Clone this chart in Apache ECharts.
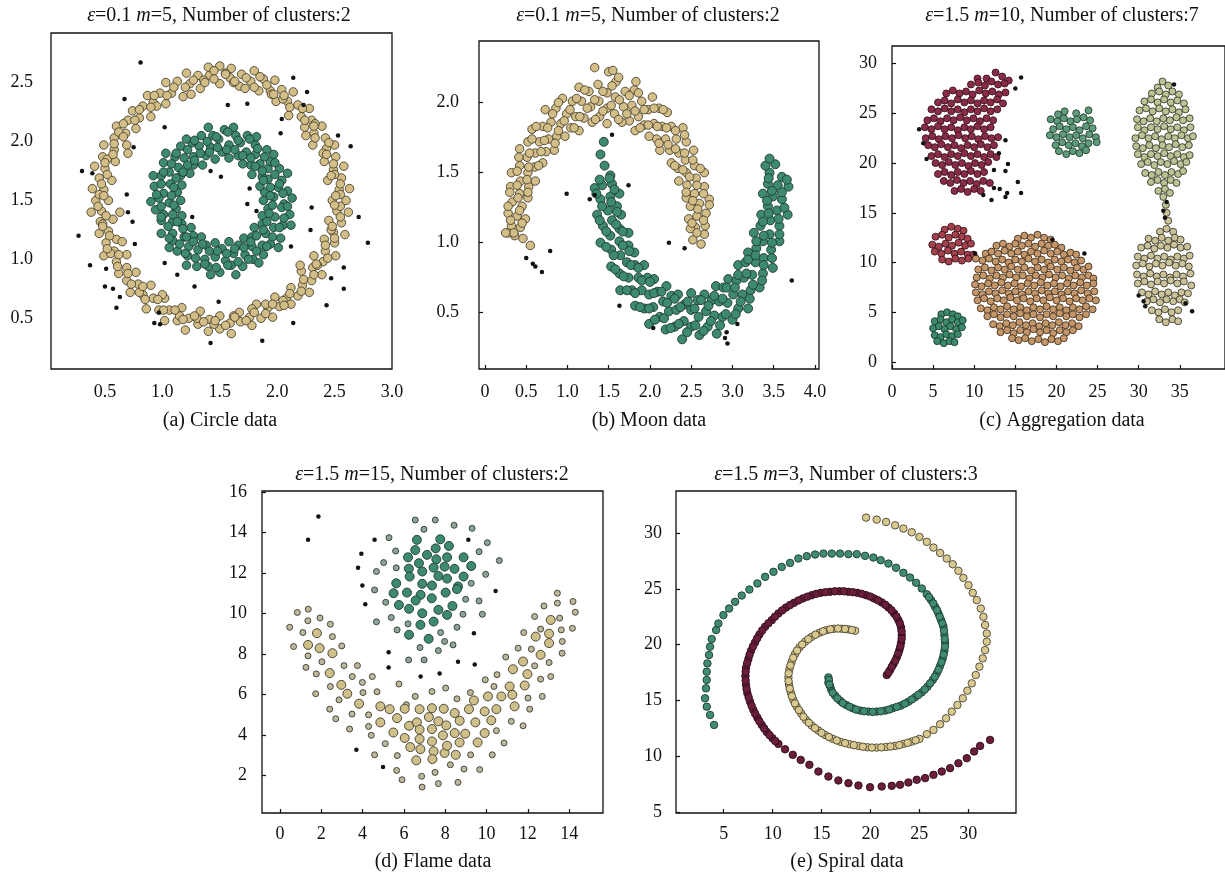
<!DOCTYPE html>
<html><head><meta charset="utf-8">
<script src="https://cdn.jsdelivr.net/npm/echarts@6/dist/echarts.min.js"></script>
<style>html,body{margin:0;padding:0;background:#fff}#c{width:1225px;height:880px}</style>
</head><body><div id="c"></div><script>
// ---------- tick labels ----------
const circleXTicks=[0.5,1,1.5,2,2.5,3];
const circleYTicks=[0.5,1,1.5,2,2.5];
const moonXTicks=[0,0.5,1,1.5,2,2.5,3,3.5,4];
const moonYTicks=[0.5,1,1.5,2];
const aggXTicks=[0,5,10,15,20,25,30,35];
const aggYTicks=[0,5,10,15,20,25,30];
const flameXTicks=[0,2,4,6,8,10,12,14];
const flameYTicks=[2,4,6,8,10,12,14,16];
const spiralXTicks=[5,10,15,20,25,30];
const spiralYTicks=[5,10,15,20,25,30];

// ---------- (a) circle data ----------
const circleInner=[[1.88,1.50],[1.97,1.53],[2.06,1.47],[2.13,1.52],[1.89,1.57],[2.01,1.61],[2.09,1.58],[1.85,1.62],[1.92,1.68],[2.04,1.67],[2.09,1.73],[1.87,1.70],[1.92,1.77],[2.02,1.77],[1.78,1.72],[1.85,1.81],[1.94,1.83],[1.97,1.89],[1.77,1.80],[1.81,1.89],[1.91,1.93],[1.70,1.81],[1.73,1.91],[1.81,1.97],[1.82,2.04],[1.66,1.88],[1.68,1.99],[1.74,2.05],[1.58,1.86],[1.58,1.97],[1.64,2.05],[1.62,2.12],[1.52,1.91],[1.49,2.02],[1.54,2.10],[1.46,1.85],[1.42,1.95],[1.44,2.05],[1.40,2.12],[1.38,1.88],[1.32,1.96],[1.34,2.05],[1.35,1.80],[1.27,1.87],[1.26,1.99],[1.21,2.02],[1.27,1.80],[1.19,1.86],[1.16,1.96],[1.24,1.73],[1.14,1.78],[1.11,1.87],[1.03,1.90],[1.16,1.71],[1.06,1.74],[1.01,1.82],[1.17,1.63],[1.07,1.64],[0.99,1.71],[0.92,1.71],[1.13,1.57],[1.01,1.56],[0.93,1.62],[1.16,1.50],[1.06,1.48],[0.97,1.52],[0.90,1.49],[1.12,1.43],[1.01,1.38],[0.94,1.42],[1.17,1.37],[1.09,1.32],[0.99,1.33],[1.17,1.30],[1.09,1.22],[0.99,1.22],[1.25,1.27],[1.19,1.19],[1.09,1.16],[1.06,1.10],[1.27,1.20],[1.23,1.11],[1.13,1.07],[1.34,1.19],[1.31,1.08],[1.22,1.03],[1.21,0.95],[1.38,1.12],[1.37,1.00],[1.30,0.94],[1.46,1.14],[1.46,1.02],[1.40,0.94],[1.42,0.87],[1.52,1.09],[1.55,0.99],[1.50,0.89],[1.58,1.15],[1.62,1.05],[1.60,0.95],[1.64,0.87],[1.66,1.12],[1.72,1.04],[1.70,0.94],[1.71,1.18],[1.78,1.11],[1.79,1.00],[1.84,0.97],[1.78,1.19],[1.87,1.12],[1.88,1.04],[1.80,1.27],[1.90,1.22],[1.94,1.13],[2.01,1.10],[1.87,1.30],[1.97,1.27],[2.03,1.18],[1.87,1.37],[1.98,1.36],[2.05,1.29],[2.12,1.29],[1.92,1.43],[2.04,1.44],[2.11,1.38],
[1.94,1.54],[2.05,1.56],[1.94,1.61],[2.02,1.64],[1.88,1.67],[1.98,1.72],[1.87,1.75],[1.98,1.82],[1.81,1.79],[1.89,1.87],[1.77,1.86],[1.83,1.94],[1.70,1.88],[1.76,2.02],[1.63,1.93],[1.66,2.01],[1.56,1.93],[1.57,2.08],[1.48,1.95],[1.47,2.04],[1.41,1.91],[1.39,2.00],[1.33,1.90],[1.28,2.01],[1.28,1.84],[1.22,1.93],[1.22,1.80],[1.12,1.90],[1.18,1.74],[1.08,1.81],[1.12,1.69],[1.01,1.74],[1.10,1.61],[0.99,1.64],[1.08,1.54],[0.95,1.55],[1.10,1.46],[0.99,1.45],[1.09,1.38],[0.99,1.36],[1.13,1.32],[1.05,1.28],[1.18,1.26],[1.06,1.18],[1.21,1.19],[1.15,1.13],[1.27,1.15],[1.20,1.05],[1.35,1.13],[1.29,1.01],[1.41,1.07],[1.37,0.96],[1.48,1.07],[1.47,0.93],[1.56,1.05],[1.57,0.95],[1.63,1.09],[1.66,0.98],[1.71,1.10],[1.75,1.00],[1.77,1.15],[1.82,1.07],[1.82,1.20],[1.91,1.11],[1.88,1.25],[1.96,1.19],[1.91,1.32],[2.02,1.27],[1.93,1.39],[2.06,1.35],[1.96,1.46],[2.09,1.45]];
const circleOuter=[[2.48,1.50],[2.60,1.50],[2.54,1.59],[2.63,1.60],[2.44,1.67],[2.56,1.69],[2.49,1.76],[2.58,1.79],[2.41,1.83],[2.51,1.87],[2.43,1.94],[2.50,1.97],[2.31,1.97],[2.42,2.03],[2.32,2.07],[2.39,2.13],[2.24,2.12],[2.30,2.18],[2.21,2.21],[2.28,2.28],[2.10,2.22],[2.18,2.31],[2.09,2.34],[2.14,2.42],[1.99,2.34],[2.04,2.44],[1.94,2.43],[1.98,2.52],[1.84,2.43],[1.88,2.53],[1.77,2.51],[1.80,2.60],[1.67,2.47],[1.69,2.57],[1.59,2.54],[1.60,2.62],[1.50,2.49],[1.50,2.64],[1.41,2.56],[1.40,2.63],[1.33,2.45],[1.31,2.56],[1.24,2.49],[1.21,2.58],[1.18,2.38],[1.13,2.51],[1.08,2.41],[1.03,2.50],[1.03,2.32],[0.98,2.41],[0.92,2.33],[0.87,2.39],[0.90,2.21],[0.83,2.30],[0.80,2.20],[0.74,2.26],[0.77,2.11],[0.70,2.18],[0.68,2.07],[0.60,2.13],[0.69,1.97],[0.58,2.03],[0.58,1.93],[0.49,1.97],[0.59,1.83],[0.48,1.87],[0.50,1.77],[0.41,1.79],[0.56,1.67],[0.45,1.69],[0.49,1.59],[0.39,1.60],[0.53,1.50],[0.42,1.50],[0.47,1.41],[0.38,1.40],[0.57,1.34],[0.46,1.32],[0.53,1.24],[0.45,1.22],[0.60,1.17],[0.51,1.14],[0.58,1.07],[0.49,1.03],[0.69,1.04],[0.60,0.98],[0.69,0.93],[0.62,0.88],[0.77,0.89],[0.69,0.82],[0.79,0.79],[0.72,0.72],[0.90,0.78],[0.83,0.70],[0.92,0.67],[0.86,0.58],[1.02,0.67],[0.97,0.57],[1.06,0.57],[1.02,0.48],[1.17,0.59],[1.13,0.48],[1.23,0.50],[1.20,0.40],[1.33,0.56],[1.31,0.45],[1.41,0.49],[1.40,0.39],[1.50,0.52],[1.50,0.41],[1.59,0.46],[1.60,0.37],[1.67,0.55],[1.68,0.47],[1.76,0.51],[1.78,0.44],[1.82,0.62],[1.86,0.50],[1.92,0.59],[1.96,0.51],[1.98,0.68],[2.02,0.60],[2.08,0.67],[2.12,0.62],[2.12,0.76],[2.18,0.69],[2.22,0.78],[2.28,0.72],[2.21,0.90],[2.30,0.82],[2.31,0.93],[2.39,0.87],[2.32,1.03],[2.40,0.98],[2.42,1.07],[2.51,1.03],[2.41,1.17],[2.50,1.14],[2.49,1.23],[2.59,1.21],[2.45,1.33],[2.56,1.31],[2.52,1.41],[2.62,1.40],
[1.45,2.60],[1.55,2.58],[1.62,2.50],[1.36,2.52],[1.72,2.45],[1.95,2.40],[2.05,2.36],[0.95,2.30],[0.62,2.08],[0.52,1.85],[0.45,1.55],[0.48,1.30],[0.55,1.05],[0.80,0.72],[1.15,0.52],[1.30,0.50],[1.45,0.45],[1.62,0.52],[1.90,0.62],[2.05,0.65],[2.35,0.95],[2.47,1.25],[2.55,1.55],[2.50,1.72],[2.40,1.90],[2.33,2.15],[2.25,2.05],[1.85,2.55],[1.25,2.40],[0.70,1.90],[0.63,1.40],[0.65,1.15],[1.00,0.70],[1.78,0.58],[2.20,0.95],[2.55,1.45],
[2.51,1.54],[2.55,1.64],[2.47,1.71],[2.49,1.81],[2.43,1.89],[2.45,1.99],[2.33,2.03],[2.32,2.13],[2.24,2.18],[2.22,2.28],[2.11,2.29],[2.06,2.39],[1.97,2.40],[1.91,2.48],[1.80,2.46],[1.73,2.54],[1.63,2.51],[1.55,2.57],[1.45,2.53],[1.37,2.50],[1.27,2.52],[1.20,2.46],[1.10,2.46],[1.04,2.39],[0.93,2.39],[0.90,2.29],[0.80,2.27],[0.76,2.18],[0.66,2.15],[0.66,2.04],[0.58,1.98],[0.57,1.89],[0.50,1.82],[0.52,1.72],[0.47,1.64],[0.49,1.54],[0.44,1.45],[0.51,1.37],[0.48,1.28],[0.54,1.20],[0.52,1.09],[0.62,1.04],[0.61,0.94],[0.70,0.88],[0.73,0.79],[0.83,0.77],[0.85,0.66],[0.96,0.66],[1.01,0.57],[1.11,0.57],[1.18,0.49],[1.28,0.52],[1.36,0.47],[1.46,0.48],[1.55,0.44],[1.63,0.51],[1.73,0.48],[1.80,0.55],[1.90,0.54],[1.96,0.62],[2.06,0.61],[2.11,0.71],[2.21,0.73],[2.23,0.83],[2.32,0.87],[2.34,0.96],[2.44,1.01],[2.42,1.12],[2.50,1.18],[2.48,1.28],[2.55,1.36],[2.50,1.46]];
const circleNoise=[[0.81,2.67],[0.67,2.36],[2.14,2.54],[2.26,2.42],[1.57,2.31],[1.74,2.32],[2.23,2.31],[2.04,2.19],[1.02,2.12],[2.03,2.07],[2.53,2.05],[2.64,1.96],[0.75,1.95],[0.30,1.75],[0.39,1.73],[1.42,1.75],[1.51,1.70],[1.76,1.60],[0.69,1.55],[1.74,1.47],[1.82,1.41],[0.70,1.40],[2.30,1.44],[2.71,1.36],[1.26,1.36],[0.74,1.32],[2.29,1.25],[0.27,1.20],[2.79,1.14],[2.12,1.11],[0.76,1.13],[0.37,0.95],[0.51,0.92],[1.02,0.97],[2.58,0.93],[2.47,0.84],[1.13,0.87],[1.28,0.77],[0.50,0.77],[0.57,0.75],[0.63,0.68],[2.58,0.75],[0.60,0.59],[1.49,0.64],[2.43,0.61],[0.93,0.46],[0.98,0.45],[0.97,0.55],[2.14,0.46],[1.42,0.29],[1.87,0.31]];

// ---------- (b) moon data ----------
const moonUpper=[[2.52,1.02],[2.62,0.99],[2.66,1.06],[2.55,1.11],[2.67,1.12],[2.49,1.10],[2.47,1.17],[2.57,1.19],[2.68,1.21],[2.49,1.26],[2.60,1.28],[2.72,1.31],[2.44,1.32],[2.54,1.35],[2.66,1.40],[2.45,1.41],[2.56,1.46],[2.66,1.50],[2.35,1.44],[2.44,1.50],[2.54,1.55],[2.34,1.53],[2.43,1.59],[2.53,1.66],[2.26,1.57],[2.35,1.64],[2.44,1.72],[2.24,1.66],[2.32,1.74],[2.40,1.82],[2.12,1.66],[2.19,1.74],[2.26,1.83],[2.08,1.74],[2.15,1.83],[2.21,1.93],[1.99,1.76],[2.05,1.85],[2.11,1.96],[1.93,1.84],[1.98,1.95],[2.03,2.04],[1.82,1.80],[1.86,1.90],[1.90,2.01],[1.75,1.87],[1.78,1.98],[1.81,2.09],[1.66,1.86],[1.68,1.97],[1.70,2.08],[1.57,1.92],[1.58,2.04],[1.59,2.15],[1.48,1.85],[1.48,1.96],[1.48,2.07],[1.50,2.22],[1.39,1.90],[1.38,2.01],[1.37,2.13],[1.30,1.86],[1.28,1.97],[1.26,2.08],[1.20,1.89],[1.17,2.01],[1.14,2.11],[1.14,1.80],[1.10,1.90],[1.06,2.01],[1.04,1.82],[0.99,1.92],[0.94,2.03],[0.97,1.76],[0.92,1.85],[0.86,1.96],[0.87,1.76],[0.80,1.86],[0.73,1.95],[0.84,1.66],[0.77,1.74],[0.70,1.83],[0.74,1.65],[0.66,1.72],[0.57,1.81],[0.70,1.57],[0.61,1.64],[0.52,1.72],[0.60,1.54],[0.51,1.61],[0.42,1.67],[0.61,1.44],[0.52,1.50],[0.42,1.55],[0.53,1.40],[0.43,1.44],[0.32,1.50],[0.52,1.32],[0.42,1.35],[0.31,1.40],[0.45,1.26],[0.33,1.29],[0.49,1.17],[0.39,1.19],[0.28,1.21],[0.43,1.11],[0.32,1.12],[0.46,1.03],[0.36,1.05],[0.28,1.07],[0.55,0.98],
[2.57,1.07],[2.51,1.14],[2.65,1.16],[2.58,1.24],[2.72,1.27],[2.52,1.30],[2.65,1.35],[2.44,1.36],[2.57,1.41],[2.48,1.47],[2.61,1.53],[2.40,1.52],[2.52,1.59],[2.30,1.55],[2.42,1.64],[2.31,1.67],[2.42,1.77],[2.22,1.70],[2.31,1.80],[2.11,1.71],[2.20,1.82],[2.09,1.83],[2.16,1.95],[1.98,1.84],[2.05,1.96],[1.88,1.82],[1.93,1.95],[1.82,1.94],[1.86,2.07],[1.72,1.92],[1.75,2.05],[1.62,1.88],[1.63,2.02],[1.53,1.98],[1.54,2.12],[1.43,1.94],[1.43,2.08],[1.34,1.88],[1.33,2.02],[1.24,1.96],[1.21,2.09],[1.15,1.90],[1.11,2.03],[1.08,1.82],[1.03,1.95],[0.96,1.87],[0.89,2.00],[0.89,1.80],[0.82,1.92],[0.85,1.71],[0.76,1.82],[0.72,1.73],[0.62,1.83],[0.68,1.65],[0.57,1.74],[0.65,1.55],[0.54,1.64],[0.53,1.54],[0.41,1.61],[0.51,1.45],[0.39,1.51],[0.52,1.36],[0.39,1.41],[0.40,1.32],[0.30,1.36],[0.42,1.23],[0.28,1.26],[0.45,1.14],[0.31,1.16],[0.35,1.07],[0.25,1.07],[1.33,2.25],[1.55,2.23],[1.62,2.18],[1.83,2.15]];
const moonLower=[[1.45,1.55],[1.40,1.63],[1.44,1.72],[1.52,1.48],[1.54,1.42],[1.42,1.41],[1.33,1.39],[1.63,1.35],[1.52,1.33],[1.40,1.31],[1.60,1.26],[1.49,1.23],[1.36,1.20],[1.65,1.20],[1.54,1.16],[1.43,1.12],[1.63,1.10],[1.52,1.05],[1.40,1.00],[1.74,1.07],[1.63,1.01],[1.53,0.95],[1.74,0.98],[1.64,0.91],[1.53,0.83],[1.81,0.93],[1.72,0.86],[1.63,0.78],[1.82,0.84],[1.74,0.75],[1.64,0.66],[1.93,0.84],[1.86,0.75],[1.78,0.66],[1.97,0.75],[1.90,0.66],[1.82,0.55],[2.05,0.74],[1.99,0.63],[1.93,0.53],[2.09,0.65],[2.04,0.54],[1.99,0.42],[2.20,0.69],[2.16,0.58],[2.12,0.47],[2.26,0.62],[2.23,0.51],[2.19,0.38],[2.34,0.63],[2.32,0.52],[2.30,0.40],[2.42,0.56],[2.41,0.44],[2.39,0.31],[2.50,0.64],[2.50,0.52],[2.50,0.40],[2.58,0.59],[2.59,0.47],[2.60,0.34],[2.66,0.63],[2.68,0.51],[2.70,0.40],[2.75,0.59],[2.78,0.48],[2.81,0.35],[2.80,0.69],[2.84,0.58],[2.88,0.47],[2.89,0.68],[2.94,0.57],[3.00,0.45],[2.95,0.74],[3.01,0.63],[3.07,0.53],[3.05,0.73],[3.12,0.63],[3.19,0.53],[3.07,0.84],[3.14,0.75],[3.22,0.66],[3.16,0.86],[3.24,0.77],[3.33,0.68],[3.19,0.93],[3.28,0.86],[3.37,0.78],[3.29,0.96],[3.38,0.89],[3.49,0.82],[3.26,1.07],[3.37,1.01],[3.47,0.95],[3.34,1.12],[3.45,1.06],[3.57,1.01],[3.35,1.20],[3.46,1.16],[3.57,1.12],[3.43,1.26],[3.54,1.23],[3.67,1.20],[3.37,1.35],[3.49,1.33],[3.60,1.31],[3.43,1.42],[3.55,1.41],[3.68,1.40],[3.45,1.50],[3.52,1.56],[3.40,1.55],[3.60,1.47],[3.45,1.60],
[1.51,1.46],[1.39,1.45],[1.57,1.38],[1.35,1.35],[1.53,1.29],[1.42,1.26],[1.60,1.22],[1.39,1.16],[1.59,1.13],[1.47,1.08],[1.67,1.08],[1.47,0.97],[1.67,0.98],[1.56,0.91],[1.75,0.94],[1.58,0.81],[1.77,0.84],[1.68,0.76],[1.86,0.82],[1.72,0.66],[1.90,0.73],[1.82,0.64],[2.00,0.72],[1.88,0.54],[2.05,0.64],[1.99,0.53],[2.14,0.65],[2.06,0.45],[2.21,0.57],[2.17,0.46],[2.30,0.60],[2.25,0.39],[2.37,0.54],[2.35,0.42],[2.46,0.58],[2.45,0.36],[2.54,0.53],[2.55,0.41],[2.62,0.59],[2.65,0.37],[2.71,0.55],[2.74,0.44],[2.78,0.62],[2.85,0.41],[2.88,0.60],[2.92,0.49],[2.93,0.68],[3.04,0.49],[3.03,0.68],[3.10,0.58],[3.07,0.77],[3.21,0.60],[3.17,0.78],[3.25,0.70],[3.19,0.88],[3.36,0.73],[3.28,0.91],[3.38,0.84],[3.29,1.01],[3.48,0.89],[3.38,1.05],[3.48,1.00],[3.37,1.15],[3.57,1.06],[3.44,1.21],[3.56,1.17],[3.42,1.30],[3.63,1.25],[3.48,1.37],[3.60,1.36],[3.44,1.46],[3.66,1.45]];
const moonNoise=[[1.54,1.77],[0.99,1.35],[1.27,1.31],[1.33,1.34],[1.74,1.41],[0.79,0.94],[0.50,0.89],[0.58,0.85],[0.61,0.83],[0.69,0.79],[2.23,1.00],[2.42,0.96],[3.72,0.73],[1.63,0.55],[2.04,0.39],[3.06,0.42],[2.93,0.36],[2.91,0.32],[2.94,0.28]];

// ---------- (c) aggregation data ----------
const aggRedBig=[[12.6,29.1],[13.4,28.7],[11.5,28.5],[10.4,28.5],[14.2,28.3],[9.6,27.9],[10.5,28.1],[11.3,27.8],[12.1,28.2],[12.9,27.9],[13.7,28.0],[6.6,27.0],[7.4,27.3],[8.2,27.0],[9.0,27.2],[9.8,26.9],[10.6,27.3],[11.4,27.0],[12.2,27.2],[13.0,26.9],[13.8,27.1],[5.6,26.1],[6.4,26.3],[7.2,26.0],[8.0,26.4],[8.8,26.1],[9.6,26.3],[10.4,26.0],[11.2,26.3],[12.0,26.1],[12.8,26.4],[13.5,26.0],[4.8,25.4],[5.6,25.2],[6.4,25.5],[7.2,25.2],[8.0,25.4],[8.8,25.1],[9.6,25.4],[10.4,25.2],[11.2,25.5],[12.0,25.2],[12.8,25.4],[4.3,24.3],[5.1,24.5],[5.9,24.2],[6.7,24.5],[7.5,24.3],[8.3,24.6],[9.1,24.3],[9.9,24.5],[10.7,24.2],[11.5,24.5],[12.3,24.3],[4.0,23.6],[4.8,23.4],[5.6,23.7],[6.4,23.4],[7.2,23.6],[8.0,23.3],[8.8,23.6],[9.6,23.4],[10.4,23.7],[11.2,23.4],[12.0,23.6],[4.1,22.5],[4.9,22.7],[5.7,22.4],[6.5,22.7],[7.3,22.5],[8.1,22.8],[8.9,22.5],[9.7,22.7],[10.5,22.4],[11.3,22.7],[12.1,22.5],[12.9,22.6],[4.4,21.8],[5.2,21.6],[6.0,21.9],[6.8,21.6],[7.6,21.8],[8.4,21.5],[9.2,21.8],[10.0,21.6],[10.8,21.9],[11.6,21.6],[12.4,21.8],[4.8,20.7],[5.6,20.9],[6.4,20.6],[7.2,20.9],[8.0,20.7],[8.8,21.0],[9.6,20.7],[10.4,20.9],[11.2,20.6],[12.0,20.9],[12.7,20.6],[5.3,20.0],[6.1,19.8],[6.9,20.1],[7.7,19.8],[8.5,20.0],[9.3,19.7],[10.1,20.0],[10.9,19.8],[11.7,20.1],[5.6,18.9],[6.4,19.1],[7.2,18.8],[8.0,19.1],[8.8,18.9],[9.6,19.2],[10.4,18.9],[11.2,19.1],[6.3,18.2],[7.1,18.0],[7.9,18.3],[8.7,18.0],[9.5,18.2],[10.3,17.9],[11.1,18.2],[11.9,18.0],[7.6,17.2],[8.4,17.4],[9.2,17.1],[10.0,17.4],[10.8,17.2]];
const aggRedSmall=[[6.4,13.3],[7.2,13.6],[8.0,13.4],[8.7,13.2],[5.3,12.6],[6.1,12.8],[6.9,12.5],[7.7,12.8],[8.5,12.6],[9.2,12.4],[4.9,11.8],[5.7,11.6],[6.5,11.9],[7.3,11.7],[8.1,12.0],[8.9,11.7],[9.6,11.9],[5.2,11.1],[6.0,10.9],[6.8,11.2],[7.6,10.9],[8.4,11.1],[9.2,10.8],[9.9,10.8],[6.1,10.3],[6.9,10.1],[7.7,10.4],[8.5,10.2],[9.3,10.4]];
const aggGreenSmall=[[6.0,4.8],[6.7,5.0],[7.4,4.8],[8.0,4.6],[5.2,4.1],[5.9,4.3],[6.6,4.0],[7.3,4.3],[8.0,4.0],[8.6,4.2],[5.0,3.4],[5.7,3.6],[6.4,3.3],[7.1,3.6],[7.8,3.3],[8.5,3.5],[5.2,2.7],[5.9,2.5],[6.6,2.8],[7.3,2.6],[8.0,2.8],[5.5,2.1],[6.3,1.9],[7.0,2.1],[7.6,2.0]];
const aggOrange=[[15.3,12.4],[16.1,12.7],[16.9,12.5],[17.7,12.8],[18.5,12.5],[19.3,12.3],[12.7,11.7],[13.5,11.9],[14.3,11.6],[15.0,11.9],[15.8,11.7],[16.6,11.9],[17.4,11.6],[18.2,11.9],[19.0,11.7],[19.8,11.8],[20.6,11.5],[11.4,10.9],[12.1,11.1],[12.9,10.9],[13.7,11.2],[14.5,10.9],[15.3,11.1],[16.1,10.8],[16.9,11.1],[17.7,10.9],[18.5,11.2],[19.3,10.9],[20.1,11.1],[20.9,10.8],[21.7,11.0],[22.4,10.8],[11.0,10.2],[11.8,10.4],[12.6,10.1],[13.4,10.3],[14.2,10.0],[15.0,10.3],[15.8,10.1],[16.6,10.4],[17.4,10.1],[18.2,10.3],[19.0,10.0],[19.8,10.3],[20.6,10.1],[21.4,10.3],[22.2,10.0],[23.0,10.2],[10.5,9.3],[11.3,9.5],[12.1,9.2],[12.9,9.5],[13.7,9.3],[14.5,9.6],[15.3,9.3],[16.1,9.5],[16.9,9.2],[17.7,9.5],[18.5,9.3],[19.3,9.6],[20.1,9.3],[20.9,9.5],[21.7,9.2],[22.5,9.5],[23.3,9.3],[23.9,9.6],[10.3,8.5],[11.1,8.7],[11.9,8.4],[12.7,8.7],[13.5,8.5],[14.3,8.8],[15.1,8.5],[15.9,8.7],[16.7,8.4],[17.5,8.7],[18.3,8.5],[19.1,8.8],[19.9,8.5],[20.7,8.7],[21.5,8.4],[22.3,8.7],[23.1,8.5],[23.9,8.7],[24.5,8.4],[10.1,7.8],[10.9,7.6],[11.7,7.9],[12.5,7.7],[13.3,8.0],[14.1,7.7],[14.9,7.9],[15.7,7.6],[16.5,7.9],[17.3,7.7],[18.1,8.0],[18.9,7.7],[19.7,7.9],[20.5,7.6],[21.3,7.9],[22.1,7.7],[22.9,8.0],[23.7,7.7],[24.5,7.9],[10.2,7.0],[11.0,6.8],[11.8,7.1],[12.6,6.9],[13.4,7.2],[14.2,6.9],[15.0,7.1],[15.8,6.8],[16.6,7.1],[17.4,6.9],[18.2,7.2],[19.0,6.9],[19.8,7.1],[20.6,6.8],[21.4,7.1],[22.2,6.9],[23.0,7.2],[23.8,6.9],[24.6,7.1],[10.4,6.2],[11.2,6.4],[12.0,6.1],[12.8,6.4],[13.6,6.2],[14.4,6.5],[15.2,6.2],[16.0,6.4],[16.8,6.1],[17.6,6.4],[18.4,6.2],[19.2,6.5],[20.0,6.2],[20.8,6.4],[21.6,6.1],[22.4,6.4],[23.2,6.2],[24.0,6.4],[24.8,6.2],[10.8,5.4],[11.6,5.2],[12.4,5.5],[13.2,5.3],[14.0,5.6],[14.8,5.3],[15.6,5.5],[16.4,5.2],[17.2,5.5],[18.0,5.3],[18.8,5.6],[19.6,5.3],[20.4,5.5],[21.2,5.2],[22.0,5.5],[22.8,5.3],[23.6,5.6],[24.4,5.3],[11.6,4.6],[12.4,4.8],[13.2,4.5],[14.0,4.8],[14.8,4.6],[15.6,4.9],[16.4,4.6],[17.2,4.8],[18.0,4.5],[18.8,4.8],[19.6,4.6],[20.4,4.9],[21.2,4.6],[22.0,4.8],[22.8,4.5],[23.6,4.8],[12.3,3.8],[13.1,3.6],[13.9,3.9],[14.7,3.7],[15.5,4.0],[16.3,3.7],[17.1,3.9],[17.9,3.6],[18.7,3.9],[19.5,3.7],[20.3,4.0],[21.1,3.7],[21.9,3.9],[22.7,3.6],[13.2,3.0],[14.0,3.2],[14.8,2.9],[15.6,3.2],[16.4,3.0],[17.2,3.3],[18.0,3.0],[18.8,3.2],[19.6,2.9],[20.4,3.2],[21.2,3.0],[22.0,3.2],[14.6,2.4],[15.4,2.2],[16.2,2.4],[17.0,2.1],[17.8,2.3],[18.6,2.0],[19.4,2.3],[20.2,2.1],[20.9,2.4],[10.2,10.4]];
const aggGreenTop=[[20.2,24.9],[21.0,25.2],[22.4,25.0],[23.9,25.3],[19.3,24.4],[20.1,24.2],[20.9,24.5],[21.7,24.2],[22.5,24.4],[23.3,24.6],[24.1,24.3],[19.6,23.4],[20.4,23.7],[21.2,23.4],[22.0,23.6],[22.8,23.3],[23.6,23.7],[24.4,23.5],[19.2,22.8],[20.0,22.6],[20.8,22.9],[21.6,22.6],[22.4,22.8],[23.2,22.5],[24.0,22.9],[24.8,22.6],[19.9,21.8],[20.7,22.1],[21.5,21.8],[22.3,22.0],[23.1,21.7],[23.9,22.0],[24.9,22.1],[20.3,21.2],[21.2,20.9],[22.0,21.2],[22.8,21.0],[23.6,21.3]];
const aggOliveTop=[[32.9,28.2],[33.6,27.8],[32.3,27.6],[31.6,27.0],[32.5,27.2],[33.3,26.9],[34.1,27.2],[34.9,26.9],[30.7,26.2],[31.5,26.4],[32.3,26.1],[33.1,26.4],[33.9,26.1],[34.7,26.3],[35.5,26.0],[30.1,25.3],[30.9,25.5],[31.7,25.2],[32.5,25.5],[33.3,25.2],[34.1,25.4],[34.9,25.1],[35.7,25.4],[29.8,24.4],[30.6,24.2],[31.4,24.5],[32.2,24.2],[33.0,24.5],[33.8,24.3],[34.6,24.6],[35.4,24.3],[36.2,24.5],[29.9,23.6],[30.7,23.3],[31.5,23.6],[32.3,23.4],[33.1,23.7],[33.9,23.4],[34.7,23.6],[35.5,23.3],[36.3,23.6],[29.6,22.5],[30.4,22.8],[31.2,22.5],[32.0,22.7],[32.8,22.4],[33.6,22.7],[34.4,22.5],[35.2,22.8],[36.0,22.5],[36.6,22.7],[29.7,21.7],[30.5,21.5],[31.3,21.8],[32.1,21.5],[32.9,21.8],[33.7,21.6],[34.5,21.9],[35.3,21.6],[36.1,21.8],[29.9,20.9],[30.7,20.6],[31.5,20.9],[32.3,20.7],[33.1,21.0],[33.9,20.7],[34.7,20.9],[35.5,20.6],[36.2,20.8],[30.3,19.9],[31.1,20.1],[31.9,19.8],[32.7,20.1],[33.5,19.9],[34.3,20.2],[35.1,19.9],[35.8,20.1],[30.8,19.0],[31.6,18.8],[32.4,19.1],[33.2,18.8],[34.0,19.1],[34.8,18.9],[35.4,19.2],[31.5,18.1],[32.3,18.3],[33.1,18.0],[33.9,18.3],[34.6,18.0],[32.4,17.2],[33.2,17.4],[33.8,17.0],[33.0,16.6],[33.3,15.8]];
const aggOliveBottom=[[33.4,15.0],[33.6,14.2],[32.6,13.1],[33.4,13.4],[34.2,13.1],[31.2,12.4],[32.0,12.2],[32.8,12.5],[33.6,12.2],[34.4,12.5],[35.1,12.3],[30.3,11.5],[31.1,11.7],[31.9,11.4],[32.7,11.7],[33.5,11.5],[34.3,11.8],[35.1,11.5],[35.9,11.6],[29.9,10.6],[30.7,10.4],[31.5,10.7],[32.3,10.4],[33.1,10.6],[33.9,10.3],[34.7,10.6],[35.5,10.4],[36.2,10.7],[29.7,9.7],[30.5,9.9],[31.3,9.6],[32.1,9.9],[32.9,9.7],[33.7,10.0],[34.5,9.7],[35.3,9.9],[36.1,9.6],[29.8,8.8],[30.6,8.6],[31.4,8.9],[32.2,8.6],[33.0,8.8],[33.8,8.5],[34.6,8.8],[35.4,8.6],[36.3,8.9],[29.9,7.9],[30.7,8.1],[31.5,7.8],[32.3,8.1],[33.1,7.9],[33.9,8.2],[34.7,7.9],[35.5,8.1],[36.4,7.7],[30.4,7.0],[31.2,6.8],[32.0,7.1],[32.8,6.8],[33.6,7.0],[34.4,6.7],[35.2,7.0],[36.0,6.9],[31.0,6.1],[31.8,6.3],[32.6,6.0],[33.4,6.3],[34.2,6.1],[35.0,6.3],[35.6,6.0],[31.6,5.2],[32.4,5.0],[33.2,5.3],[34.0,5.0],[34.8,5.2],[32.5,4.3],[33.3,4.0],[34.1,4.3],[34.8,4.1]];
const aggNoise=[[3.3,23.4],[3.8,22.0],[4.2,20.4],[13.8,22.3],[13.0,21.0],[14.1,19.9],[12.4,19.3],[13.8,19.2],[15.3,18.1],[12.4,17.5],[13.1,17.4],[14.0,17.0],[15.7,17.0],[11.1,16.8],[12.1,16.3],[13.8,16.6],[15.0,27.5],[15.7,28.6],[34.3,27.9],[33.0,15.2],[33.2,14.5],[33.4,16.1],[30.0,6.7],[30.6,6.1],[30.8,5.6],[36.5,5.1],[35.7,5.9],[19.5,12.3],[10.1,10.9],[23.4,10.9]];

// ---------- (d) flame data ----------
const flameGreenCore=[[6.63,13.63],[7.76,13.66],[6.55,13.13],[7.12,12.89],[7.54,13.21],[8.18,13.33],[6.20,12.77],[6.73,12.48],[7.57,12.67],[8.09,12.77],[8.89,12.77],[6.24,12.21],[6.89,12.07],[7.44,12.26],[7.97,12.31],[8.45,12.20],[9.26,12.34],[5.63,11.49],[6.28,11.82],[6.89,11.46],[7.36,11.38],[7.67,11.85],[8.09,11.72],[8.62,11.33],[8.89,11.82],[5.50,11.00],[6.15,11.03],[6.81,10.92],[7.35,10.75],[8.02,11.03],[8.57,11.20],[5.76,10.42],[6.25,10.23],[6.57,10.64],[7.67,10.18],[8.35,10.37],[6.89,10.01],[8.09,9.93],[6.80,9.44],[7.44,9.60],[6.25,8.95],[7.20,8.75]];
const flameGreenBorder=[[6.55,14.61],[7.52,14.61],[8.43,14.35],[9.30,14.20],[6.97,14.15],[5.28,13.74],[10.04,13.49],[9.64,13.05],[5.60,13.08],[10.62,12.61],[5.02,12.51],[4.67,12.07],[5.63,12.25],[9.96,11.93],[9.26,11.49],[4.58,11.16],[5.12,10.55],[8.99,10.70],[9.64,10.62],[8.86,9.96],[9.80,9.96],[4.67,9.59],[5.39,9.80],[6.20,9.49],[5.67,9.19],[7.78,9.06],[8.57,9.32],[7.97,8.62],[8.38,8.45],[6.78,8.32],[7.67,8.17],[6.23,7.71],[6.98,7.71]];
const flameTanCore=[[1.79,9.03],[1.36,8.45],[1.92,8.29],[2.54,8.04],[2.41,7.06],[2.97,6.48],[3.26,6.04],[3.83,5.55],[4.86,5.42],[5.31,5.28],[5.67,4.84],[4.86,4.63],[5.49,4.13],[6.04,5.30],[6.25,4.46],[6.04,3.86],[6.31,3.41],[6.63,4.63],[6.76,5.28],[6.76,4.27],[6.76,3.81],[6.80,3.31],[6.60,2.76],[7.21,4.89],[7.36,5.33],[7.36,4.30],[7.36,3.69],[7.44,3.20],[7.38,2.82],[7.67,4.68],[7.93,5.30],[7.89,3.99],[7.97,3.12],[8.05,4.48],[8.09,3.48],[8.46,5.09],[8.46,4.10],[8.51,3.03],[8.70,4.71],[8.70,3.64],[8.97,4.07],[9.15,5.28],[9.39,5.71],[9.46,4.63],[9.57,3.64],[9.91,5.17],[9.91,4.10],[10.07,5.91],[10.23,4.73],[10.48,5.28],[10.72,5.91],[11.12,6.40],[11.28,7.25],[11.36,5.42],[11.25,5.99],[11.77,7.63],[11.85,6.45],[11.98,7.01],[12.38,8.86],[12.62,7.96],[13.03,9.00],[13.03,8.54],[13.11,9.68]];
const flameTanBorder=[[0.47,9.32],[0.84,10.05],[1.37,10.21],[1.35,9.64],[1.11,9.06],[0.66,8.37],[1.94,9.78],[2.44,9.47],[2.54,8.86],[1.36,7.91],[2.03,7.62],[2.99,8.40],[1.26,7.34],[1.76,7.02],[3.10,7.43],[3.75,7.43],[1.73,6.04],[2.44,6.40],[3.50,6.89],[3.99,6.60],[2.86,5.74],[4.02,6.10],[4.47,6.89],[4.70,6.14],[2.41,5.28],[2.70,4.81],[3.49,5.04],[3.37,4.30],[4.29,5.00],[4.29,4.43],[4.42,3.99],[5.76,6.52],[6.12,5.50],[5.10,3.58],[4.58,3.03],[5.68,2.99],[5.65,2.26],[5.91,1.80],[6.55,5.91],[6.86,1.97],[6.88,1.44],[7.51,2.16],[7.67,1.61],[7.36,6.15],[8.02,6.32],[8.25,2.54],[8.57,5.79],[8.62,1.67],[8.91,2.33],[9.22,6.10],[9.23,3.03],[9.67,2.30],[9.94,6.73],[10.28,3.03],[10.36,6.40],[10.48,4.22],[10.51,6.98],[10.85,3.61],[10.93,7.85],[11.20,4.68],[11.53,8.29],[11.80,9.06],[12.01,5.83],[12.09,5.28],[11.77,4.46],[12.17,8.24],[12.33,9.85],[12.33,7.42],[12.62,9.23],[12.62,6.76],[12.70,5.91],[12.78,10.37],[13.03,7.58],[13.11,6.89],[13.43,11.00],[13.43,10.51],[13.54,9.77],[13.62,9.19],[13.67,8.62],[13.66,8.04],[14.19,10.59],[14.30,10.06],[14.16,9.27]];
const flameNoise=[[1.86,14.78],[1.36,13.63],[4.58,13.63],[9.12,13.63],[3.94,12.94],[3.78,12.25],[3.99,11.38],[10.44,11.11],[4.13,10.46],[9.39,9.03],[5.26,8.09],[8.62,7.62],[5.26,7.34],[9.43,7.48],[6.81,6.89],[7.73,7.04],[3.70,3.28],[4.99,2.43]];

// ---------- (e) spiral data ----------
const spiralGreen=[[4.01,12.83],[3.60,13.72],[3.26,14.46],[3.09,15.21],[3.19,16.10],[3.26,16.85],[3.26,17.59],[3.33,18.33],[3.50,19.08],[3.60,19.82],[3.77,20.51],[4.22,21.31],[4.45,21.90],[4.97,22.65],[5.55,23.24],[6.16,23.84],[6.84,24.40],[7.62,24.94],[8.44,25.48],[9.23,26.07],[10.08,26.52],[10.93,26.96],[11.78,27.32],[12.63,27.71],[13.49,27.92],[14.34,28.07],[15.19,28.15],[16.04,28.15],[16.89,28.15],[17.75,28.10],[18.60,28.10],[19.45,27.95],[20.30,27.80],[21.05,27.56],[21.84,27.26],[22.62,26.88],[23.37,26.43],[24.05,26.01],[24.67,25.54],[25.25,25.03],[25.76,24.52],[26.20,23.99],[26.61,23.39],[26.95,22.80],[27.22,22.20],[27.46,21.61],[27.56,20.86],[27.63,20.18],[27.56,19.46],[27.39,18.78],[27.12,18.10],[26.78,17.44],[26.37,16.85],[25.83,16.25],[25.25,15.74],[24.56,15.30],[23.88,14.91],[23.10,14.55],[22.28,14.32],[21.50,14.11],[20.64,14.02],[19.79,14.02],[18.94,14.11],[18.19,14.32],[17.51,14.61],[16.89,15.00],[16.38,15.45],[15.97,16.01],[15.70,16.61],[15.70,17.08],[15.87,16.31],[16.14,15.71],[16.62,15.21],[17.17,14.79],[17.85,14.46],[18.53,14.20],[19.35,14.05],[20.23,13.99],[21.05,14.05],[21.91,14.20],[22.69,14.44],[27.60,20.50],[27.62,19.82],[27.48,19.12],[27.26,18.44],[26.96,17.77],[26.58,17.14],[26.10,16.55],[25.55,16.00],[24.90,15.52],[24.22,15.10],[23.50,14.73],[27.52,21.25],[27.35,21.92],[27.08,22.50],[26.80,23.10],[26.42,23.70],[25.98,24.26],[15.75,16.85],[15.80,16.45]];
const spiralRed=[[21.67,17.29],[22.01,17.74],[22.35,18.27],[22.69,18.87],[22.96,19.52],[23.13,20.18],[23.20,20.86],[23.13,21.55],[22.86,22.20],[22.42,22.80],[21.84,23.33],[21.16,23.78],[20.37,24.14],[19.55,24.43],[18.67,24.64],[17.75,24.73],[16.83,24.79],[15.87,24.73],[14.92,24.64],[14.00,24.43],[13.08,24.14],[12.19,23.75],[11.37,23.33],[10.59,22.80],[9.91,22.20],[9.23,21.61],[8.65,20.92],[8.20,20.21],[7.79,19.46],[7.52,18.72],[7.28,17.95],[7.22,17.20],[7.28,16.40],[7.42,15.65],[7.69,14.91],[8.03,14.17],[8.44,13.48],[8.89,12.83],[9.40,12.20],[9.98,11.64],[10.59,11.13],[11.27,10.65],[12.06,10.15],[12.87,9.70],[13.76,9.26],[14.68,8.66],[15.70,8.21],[16.72,7.86],[17.75,7.62],[18.77,7.41],[19.96,7.26],[21.15,7.32],[22.18,7.38],[23.03,7.47],[23.88,7.68],[24.73,7.92],[25.59,8.07],[26.44,8.36],[27.29,8.66],[28.14,8.96],[28.99,9.40],[29.85,9.85],[30.60,10.45],[31.21,10.95],[32.23,11.49],
[21.85,17.52],[22.18,18.02],[22.53,18.56],[22.84,19.21],[23.06,19.86],[23.19,20.53],[23.18,21.21],[23.01,21.89],[22.66,22.52],[22.15,23.08],[21.52,23.57],[20.78,23.97],[19.97,24.31],[19.11,24.55],[18.21,24.70],[17.29,24.78],[16.36,24.78],[15.40,24.70],[14.46,24.55],[13.55,24.30],[12.63,23.96],[11.78,23.55],[10.97,23.07],[10.24,22.51],[9.57,21.92],[8.93,21.28],[8.42,20.57],[7.98,19.84],[7.64,19.10],[7.39,18.34],[7.24,17.58],[7.24,16.80],[7.34,16.02],[7.55,15.28],[7.85,14.54],[8.22,13.82],[8.65,13.15],[9.14,12.51],[9.68,11.92],[10.27,11.38]];
const spiralTan=[[18.43,21.25],[17.75,21.37],[17.07,21.43],[16.28,21.43],[15.53,21.31],[14.78,21.07],[14.00,20.71],[13.32,20.27],[12.74,19.76],[12.29,19.17],[11.95,18.48],[11.71,17.80],[11.61,17.08],[11.68,16.40],[11.85,15.74],[12.12,15.06],[12.46,14.46],[12.91,13.87],[13.42,13.27],[14.00,12.77],[14.68,12.32],[15.36,11.93],[16.14,11.58],[16.96,11.31],[17.85,11.10],[18.77,10.95],[19.69,10.83],[20.64,10.80],[21.60,10.86],[22.52,10.95],[23.37,11.13],[24.22,11.34],[25.01,11.58],[25.76,12.00],[26.44,12.38],[27.12,12.89],[27.73,13.42],[28.31,14.02],[28.89,14.61],[29.44,15.21],[29.91,15.89],[30.36,16.55],[30.77,17.29],[31.14,18.04],[31.48,18.78],[31.72,19.52],[31.89,20.27],[31.89,21.01],[31.72,21.76],[31.55,22.50],[31.28,23.24],[30.87,23.99],[30.46,24.64],[30.02,25.33],[29.50,25.98],[28.99,26.61],[28.41,27.20],[27.80,27.71],[27.12,28.21],[26.44,28.69],[25.76,29.20],[25.01,29.64],[24.22,30.06],[23.37,30.39],[22.52,30.68],[21.60,30.98],[20.64,31.19],[19.55,31.37],
[18.10,21.32],[17.40,21.41],[16.68,21.45],[15.90,21.38],[15.15,21.20],[14.38,20.90],[13.65,20.50],[13.02,20.02],[12.50,19.48],[12.10,18.83],[11.82,18.14],[11.64,17.44],[11.63,16.74],[11.75,16.07],[11.97,15.40],[12.28,14.75],[12.68,14.16],[13.15,13.56],[13.70,13.02],[14.33,12.54],[15.00,12.12],[15.75,11.75],[16.55,11.44],[17.40,11.20],[18.30,11.02],[19.22,10.88],[20.15,10.80],[21.10,10.82],[22.05,10.90],[22.95,11.03],[23.80,11.23],[24.62,11.45]];

// ---------- layout & style ----------
const FONT='"Liberation Serif","Times New Roman",serif';
const TICK_FS=18, TITLE_FS=20;
const panels=[
  {grid:{left:51,top:33,width:341,height:336}, x:[0.03,3.0], y:[0.07,2.92], xt:circleXTicks, yt:circleYTicks, dec:1, ticks:false, ym:18, xm:14},
  {grid:{left:479,top:41,width:340,height:328}, x:[-0.073,4.05], y:[0.098,2.44], xt:moonXTicks, yt:moonYTicks, dec:1, ticks:true, ym:20, xm:14},
  {grid:{left:892,top:46,width:345,height:323}, x:[0,40.5], y:[-0.7,31.77], xt:aggXTicks, yt:aggYTicks, dec:0, ticks:true, ym:15, xm:14},
  {grid:{left:262,top:491,width:341,height:322}, x:[-0.87,15.64], y:[0.16,16.04], xt:flameXTicks, yt:flameYTicks, dec:0, ticks:true, ym:15, xm:12},
  {grid:{left:676,top:491,width:340,height:322}, x:[0.12,34.88], y:[4.95,33.75], xt:spiralXTicks, yt:spiralYTicks, dec:0, ticks:true, ym:14, xm:12}
];
function fmt(dec){return v=>dec? (Math.abs(v)<1e-9?'0':v.toFixed(dec)) : String(Math.round(v));}
const grids=[],xAxes=[],yAxes=[];
panels.forEach((p,i)=>{
  grids.push(Object.assign({show:true,borderColor:'#111',borderWidth:1.3,backgroundColor:'transparent',containLabel:false},p.grid));
  const common=(vals,margin)=>({
    type:'value',gridIndex:i,splitLine:{show:false},axisLine:{show:false,onZero:false},
    axisTick:{show:p.ticks,inside:true,length:4,customValues:vals,lineStyle:{color:'#111',width:1.2}},
    axisLabel:{customValues:vals,formatter:fmt(p.dec),fontFamily:FONT,fontSize:TICK_FS,color:'#111',margin:margin,hideOverlap:false}
  });
  xAxes.push(Object.assign(common(p.xt,p.xm),{min:p.x[0],max:p.x[1],position:'bottom'}));
  yAxes.push(Object.assign(common(p.yt,p.ym),{min:p.y[0],max:p.y[1],position:'left'}));
});
function sc(data,i,color,size,edge,bw){
  return {type:'scatter',xAxisIndex:i,yAxisIndex:i,data:data,symbol:'circle',symbolSize:size,
    itemStyle:{color:color,borderColor:edge,borderWidth:bw===undefined?0.9:bw,opacity:1},
    emphasis:{disabled:true},silent:true,large:false};
}
const GREEN='#3e8a70',GEDGE='#1d3a30',TAN='#d2be86',TEDGE='#4b4230',NOISE='#121212';
const series=[
  sc(circleOuter,0,TAN,8.5,TEDGE), sc(circleInner,0,GREEN,8.5,GEDGE), sc(circleNoise,0,NOISE,4.5,NOISE,0),
  sc(moonUpper,1,TAN,8.5,TEDGE), sc(moonLower,1,GREEN,9,GEDGE), sc(moonNoise,1,NOISE,4.5,NOISE,0),
  sc(aggRedBig,2,'#8a2c47',7,'#3a1420'), sc(aggRedSmall,2,'#a4424c',7,'#3a1420'),
  sc(aggGreenSmall,2,'#3b8a6b',7,'#1d3a30'), sc(aggOrange,2,'#c4976a',7,'#46321f'),
  sc(aggGreenTop,2,'#5f9c7c',7,'#24402f'), sc(aggOliveTop,2,'#bcc294',7,'#3c3c2c'),
  sc(aggOliveBottom,2,'#cbc29a',7,'#3c3c2c'), sc(aggNoise,2,NOISE,4.5,NOISE,0),
  sc(flameTanBorder,3,'#bdb89c',6,'#3a3a30'), sc(flameGreenBorder,3,'#8ea596',6,'#2a3a32'),
  sc(flameTanCore,3,'#cfc08a',9,'#3e3a2a'), sc(flameGreenCore,3,'#3e8a70',9,'#1d3a30'),
  sc(flameNoise,3,NOISE,4.5,NOISE,0),
  sc(spiralGreen,4,'#3f8b73',7.5,'#1d3a30'), sc(spiralRed,4,'#6b1d3c',7.5,'#2a0c18'), sc(spiralTan,4,'#d8c98f',7.5,'#4b4230')
];
function title(txt,x,y){
  return {type:'text',x:x,y:y,silent:true,z:10,style:{text:txt,align:'center',verticalAlign:'middle',fill:'#111',
    fontFamily:FONT,fontSize:TITLE_FS,
    rich:{i:{fontStyle:'italic',fontFamily:FONT,fontSize:TITLE_FS,fill:'#111'},n:{fontFamily:FONT,fontSize:TITLE_FS,fill:'#111'}}}};
}
const graphics=[
  title('{i|ε}{n|=0.1 }{i|m}{n|=5, Number of clusters:2}',219,16),
  title('{i|ε}{n|=0.1 }{i|m}{n|=5, Number of clusters:2}',648,16),
  title('{i|ε}{n|=1.5 }{i|m}{n|=10, Number of clusters:7}',1062,16),
  title('{i|ε}{n|=1.5 }{i|m}{n|=15, Number of clusters:2}',432,475),
  title('{i|ε}{n|=1.5 }{i|m}{n|=3, Number of clusters:3}',846,475),
  title('{n|(a) Circle data}',220,421),
  title('{n|(b) Moon data}',649,421),
  title('{n|(c) Aggregation data}',1062,421),
  title('{n|(d) Flame data}',433,862),
  title('{n|(e) Spiral data}',847,862)
];
const chart=echarts.init(document.getElementById('c'),null,{renderer:'canvas'});
chart.setOption({animation:false,backgroundColor:'#fff',grid:grids,xAxis:xAxes,yAxis:yAxes,series:series,graphic:graphics});
</script></body></html>
